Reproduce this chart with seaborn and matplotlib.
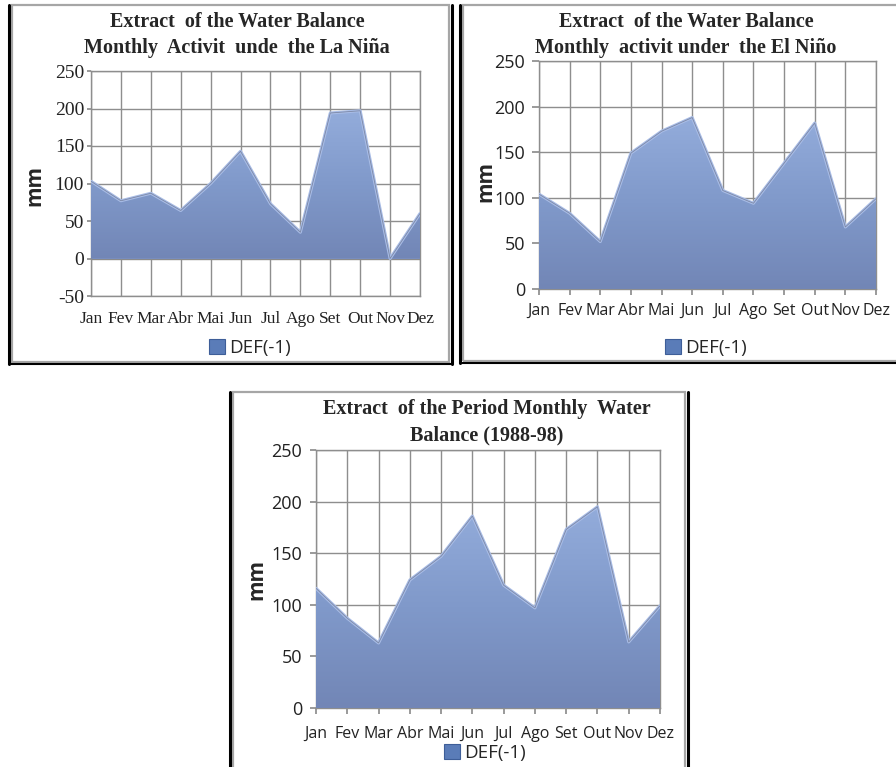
import numpy as np
import pandas as pd
import matplotlib
matplotlib.use("Agg")
import matplotlib.pyplot as plt
import seaborn as sns
from matplotlib.colors import LinearSegmentedColormap
from matplotlib.lines import Line2D
from matplotlib.patches import Rectangle

# data
months = ["Jan", "Fev", "Mar", "Abr", "Mai", "Jun", "Jul", "Ago", "Set", "Out", "Nov", "Dez"]
la_nina = [103, 77, 87, 64, 100, 143, 73, 35, 194, 197, 0, 60]
el_nino = [104, 83, 52, 149, 173, 188, 108, 94, 138, 182, 68, 99]
period = [116, 87, 63, 124, 147, 186, 119, 97, 173, 195, 64, 99]
series_name = "DEF(-1)"

sns.set_theme(style="white")
plt.rcParams["font.family"] = ["Liberation Serif", "DejaVu Sans"]
plt.rcParams["axes.unicode_minus"] = False

W, H = 896, 767
fig = plt.figure(figsize=(W / 100, H / 100), dpi=100)
fig.patch.set_facecolor("white")

GRID = "#8E8E8E"
SERIF = "Liberation Serif"
SANS = "Open Sans"
fill_cmap = LinearSegmentedColormap.from_list("bevel", ["#7286B6", "#8099CA", "#93ACDB"])


def fx(x):
    return x / W


def fy(y):
    return 1 - y / H


def add_axes_px(l, t, r, b):
    return fig.add_axes([fx(l), fy(b), (r - l) / W, (b - t) / H])


def frame(l, t, r, b, black_right=True):
    # Excel-like chart border: thin gray inner box, black outer lines
    fig.add_artist(Rectangle((fx(l + 3), fy(b - 2)), (r - l - 6) / W, (b - t - 2) / H,
                             transform=fig.transFigure, fill=False, ec="#A6A6A6", lw=1.6))
    fig.add_artist(Line2D([fx(l), fx(l)], [fy(t), fy(b)], transform=fig.transFigure, color="black", lw=2.2))
    fig.add_artist(Line2D([fx(l), fx(r)], [fy(b), fy(b)], transform=fig.transFigure, color="black", lw=1.5))
    if black_right:
        fig.add_artist(Line2D([fx(r), fx(r)], [fy(t), fy(b)], transform=fig.transFigure, color="black", lw=2.2))


def area_panel(ax, values, ylim, tick_family, xsize, ysize, xpad, ypad, ytick_len):
    df = pd.DataFrame({"x": range(len(months)), "mm": values})
    poly = ax.fill_between(df["x"], 0, df["mm"], color="#7F96C8", lw=0, zorder=2)
    grad = np.linspace(0, 1, 256).reshape(-1, 1)
    img = ax.imshow(grad, cmap=fill_cmap, origin="lower", aspect="auto",
                    extent=[0, len(months) - 1, 0, max(values)], zorder=3)
    img.set_clip_path(poly.get_paths()[0], transform=ax.transData)
    sns.lineplot(data=df, x="x", y="mm", ax=ax, color="#A8BCE6", lw=2.2, zorder=4)
    sns.lineplot(data=df, x="x", y="mm", ax=ax, color="#7C88A6", lw=0.6, zorder=5)

    ax.set_xlim(0, len(months) - 1)
    ax.set_ylim(*ylim)
    ax.set_yticks(np.arange(ylim[0], ylim[1] + 1, 50))
    ax.set_xticks(range(len(months)))
    ax.set_xticklabels(months)
    ax.set_xlabel("")
    ax.set_ylabel("")
    ax.grid(True, color=GRID, lw=1)
    ax.set_axisbelow(True)
    for s in ax.spines.values():
        s.set_color(GRID)
        s.set_linewidth(1)
    ax.tick_params(axis="y", length=ytick_len, color=GRID, pad=ypad, left=True)
    ax.tick_params(axis="x", length=4 if ylim[0] == 0 else 0, color=GRID, pad=xpad, bottom=True)
    for lab in ax.get_xticklabels():
        lab.set_family(tick_family)
        lab.set_fontsize(xsize)
        lab.set_color("#222222")
    for lab in ax.get_yticklabels():
        lab.set_family(tick_family)
        lab.set_fontsize(ysize)
        lab.set_color("#222222")
    return poly


def legend_at(ax, x, y):
    handle = Rectangle((0, 0), 1, 1, fc="#5A7CB8", ec="#3E5E98", lw=0.8)
    ax.legend([handle], [series_name], loc="center", bbox_to_anchor=(fx(x), fy(y)),
              bbox_transform=fig.transFigure, frameon=False, handlelength=0.85, handleheight=0.85,
              handletextpad=0.2, prop={"family": SANS, "size": 13.5})


# borders
frame(9, 5, 452, 364)
frame(460, 5, 905, 363, black_right=False)
frame(230, 392, 688, 775)

TITLE = dict(ha="center", va="center", fontsize=14.5, fontweight="bold", family=SERIF, linespacing=1.4)
YLAB = dict(rotation=90, ha="center", va="center", fontsize=15, fontweight="bold", family=SANS)

# panel 1: La Nina
ax1 = add_axes_px(91, 71, 420, 296)
area_panel(ax1, la_nina, (-50, 250), SERIF, 12.5, 14, 11, 2, 3)
ax1.axhline(0, color="#8A8A8A", lw=1.3, zorder=1.5)
fig.text(fx(237), fy(35), "Extract  of the Water Balance\nMonthly  Activit  unde  the La Niña", **TITLE)
fig.text(fx(35), fy(185), "mm", **YLAB)
legend_at(ax1, 250, 348)

# panel 2: El Nino
ax2 = add_axes_px(539, 61, 876, 289)
area_panel(ax2, el_nino, (0, 250), SANS, 11.5, 13, 6, 5, 5)
fig.text(fx(686), fy(35), "Extract  of the Water Balance\nMonthly  activit under  the El Niño", **TITLE)
fig.text(fx(486), fy(182), "mm", **YLAB)
legend_at(ax2, 706, 348)

# panel 3: whole period
ax3 = add_axes_px(316, 450, 660, 708)
area_panel(ax3, period, (0, 250), SANS, 11.5, 13, 9, 6, 4)
fig.text(fx(487), fy(422), "Extract  of the Period Monthly  Water\nBalance (1988-98)", **TITLE)
fig.text(fx(257), fy(580), "mm", **YLAB)
legend_at(ax3, 485, 753)

fig.savefig("out.png", dpi=100)
